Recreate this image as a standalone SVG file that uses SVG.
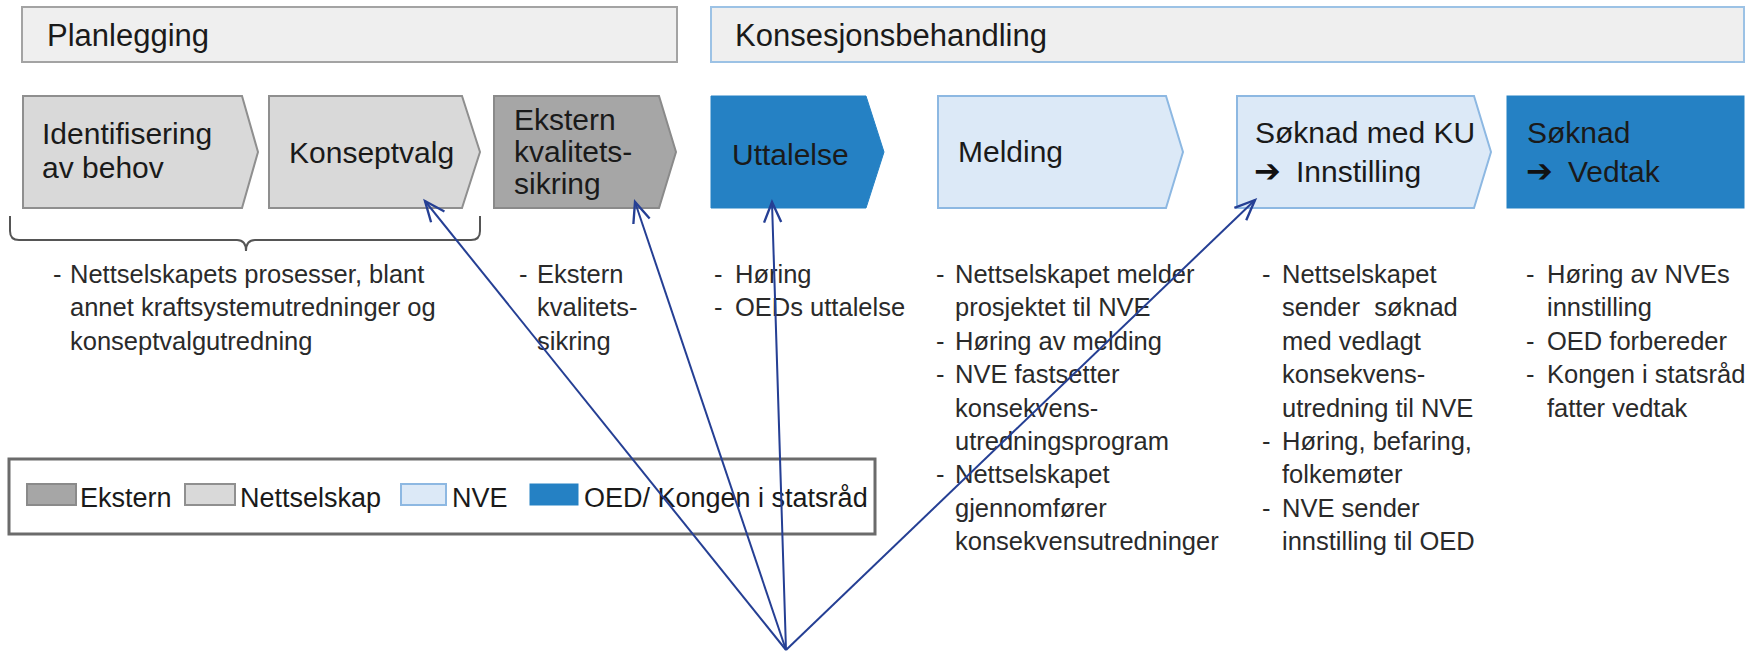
<svg xmlns="http://www.w3.org/2000/svg" width="1760" height="653" viewBox="0 0 1760 653">
<defs>
<style>
.hdr{font-family:"Liberation Sans",Arial,sans-serif;font-size:31px;fill:#1a1a1a}
.lbl{font-family:"Liberation Sans",Arial,sans-serif;font-size:30px;fill:#1a1a1a}
.arr{font-family:"DejaVu Sans",sans-serif;font-size:32px;font-weight:bold;fill:#111}
.body{font-family:"Liberation Sans",Arial,sans-serif;font-size:25.5px;fill:#2a2a2a;white-space:pre}
.leg{font-family:"Liberation Sans",Arial,sans-serif;font-size:27px;fill:#1a1a1a}
.net{fill:#d9d9d9;stroke:#8f8f8f;stroke-width:2}
.ext{fill:#a6a6a6;stroke:#8a8a8a;stroke-width:2}
.nve{fill:#dce9f7;stroke:#8db8e2;stroke-width:2}
.oed{fill:#2581c4;stroke:#2581c4;stroke-width:1}
.conn{stroke:#253f94;stroke-width:2;fill:none}
</style>
<marker id="ah" markerUnits="userSpaceOnUse" markerWidth="30" markerHeight="30" viewBox="-24 -12 28 24" refX="0" refY="0" orient="auto">
<path d="M-19,-8 L0,0 L-19,8" fill="none" stroke="#253f94" stroke-width="2.2"/>
</marker>
</defs>
<rect width="1760" height="653" fill="#ffffff"/>

<g id="planlegging">
<rect x="22" y="7" width="655" height="55" fill="#efefef" stroke="#a3a3a3" stroke-width="2"/>
<text class="hdr" x="47" y="46">Planlegging</text>
</g>
<g id="konsesjonsbehandling">
<rect x="711" y="7" width="1033" height="55" fill="#efefef" stroke="#9cc2e5" stroke-width="2"/>
<text class="hdr" x="735" y="46">Konsesjonsbehandling</text>
</g>

<g id="identifisering">
<polygon class="net" points="23,96 242,96 258,152 242,208 23,208"/>
<text class="lbl" x="42" y="144">Identifisering</text>
<text class="lbl" x="42" y="178">av behov</text>
</g>
<g id="konseptvalg">
<polygon class="net" points="269,96 462,96 480,152 462,208 269,208"/>
<text class="lbl" x="289" y="163">Konseptvalg</text>
</g>
<g id="ekstern">
<polygon class="ext" points="494,96 659,96 676,152 659,208 494,208"/>
<text class="lbl" x="514" y="130">Ekstern</text>
<text class="lbl" x="514" y="162">kvalitets-</text>
<text class="lbl" x="514" y="194">sikring</text>
</g>
<g id="uttalelse">
<polygon class="oed" points="711,96 866,96 884,152 866,208 711,208"/>
<text class="lbl" x="732" y="165">Uttalelse</text>
</g>
<g id="melding">
<polygon class="nve" points="938,96 1166,96 1183,152 1166,208 938,208"/>
<text class="lbl" x="958" y="162">Melding</text>
</g>
<g id="soknad-ku">
<polygon class="nve" points="1237,96 1474,96 1491,152 1474,208 1237,208"/>
<text class="lbl" x="1255" y="143">Søknad med KU</text>
<text x="1254" y="182"><tspan class="arr">➔</tspan><tspan class="lbl" x="1296">Innstilling</tspan></text>
</g>
<g id="soknad-vedtak">
<rect class="oed" x="1507" y="96" width="237" height="112"/>
<text class="lbl" x="1527" y="143">Søknad</text>
<text x="1526" y="182"><tspan class="arr">➔</tspan><tspan class="lbl" x="1568">Vedtak</tspan></text>
</g>

<g id="brace">
<path d="M10,216 L10,231 Q10,240 19,240 L237,240 Q246,240 246,251 Q246,240 255,240 L471,240 Q480,240 480,231 L480,216" fill="none" stroke="#555" stroke-width="2"/>
</g>

<g id="text-planlegging">
<text class="body" x="53" y="283">-</text>
<text class="body" x="70" y="283">Nettselskapets prosesser, blant</text>
<text class="body" x="70" y="316">annet kraftsystemutredninger og</text>
<text class="body" x="70" y="350">konseptvalgutredning</text>
</g>
<g id="text-ekstern">
<text class="body" x="519" y="283">-</text>
<text class="body" x="537" y="283">Ekstern</text>
<text class="body" x="537" y="316">kvalitets-</text>
<text class="body" x="537" y="350">sikring</text>
</g>
<g id="text-uttalelse">
<text class="body" x="714" y="283">-</text>
<text class="body" x="735" y="283">Høring</text>
<text class="body" x="714" y="316">-</text>
<text class="body" x="735" y="316">OEDs uttalelse</text>
</g>
<g id="text-melding">
<text class="body" x="936" y="283">-</text>
<text class="body" x="955" y="283">Nettselskapet melder</text>
<text class="body" x="955" y="316">prosjektet til NVE</text>
<text class="body" x="936" y="350">-</text>
<text class="body" x="955" y="350">Høring av melding</text>
<text class="body" x="936" y="383">-</text>
<text class="body" x="955" y="383">NVE fastsetter</text>
<text class="body" x="955" y="417">konsekvens-</text>
<text class="body" x="955" y="450">utredningsprogram</text>
<text class="body" x="936" y="483">-</text>
<text class="body" x="955" y="483">Nettselskapet</text>
<text class="body" x="955" y="517">gjennomfører</text>
<text class="body" x="955" y="550">konsekvensutredninger</text>
</g>
<g id="text-soknad-ku">
<text class="body" x="1262" y="283">-</text>
<text class="body" x="1282" y="283">Nettselskapet</text>
<text class="body" x="1282" y="316" xml:space="preserve">sender  søknad</text>
<text class="body" x="1282" y="350">med vedlagt</text>
<text class="body" x="1282" y="383">konsekvens-</text>
<text class="body" x="1282" y="417">utredning til NVE</text>
<text class="body" x="1262" y="450">-</text>
<text class="body" x="1282" y="450">Høring, befaring,</text>
<text class="body" x="1282" y="483">folkemøter</text>
<text class="body" x="1262" y="517">-</text>
<text class="body" x="1282" y="517">NVE sender</text>
<text class="body" x="1282" y="550">innstilling til OED</text>
</g>
<g id="text-vedtak">
<text class="body" x="1526" y="283">-</text>
<text class="body" x="1547" y="283">Høring av NVEs</text>
<text class="body" x="1547" y="316">innstilling</text>
<text class="body" x="1526" y="350">-</text>
<text class="body" x="1547" y="350">OED forbereder</text>
<text class="body" x="1526" y="383">-</text>
<text class="body" x="1547" y="383">Kongen i statsråd</text>
<text class="body" x="1547" y="417">fatter vedtak</text>
</g>

<g id="legend">
<rect x="9" y="459" width="866" height="75" fill="#ffffff" stroke="#6b6b6b" stroke-width="3"/>
<rect class="ext" x="27" y="484" width="49" height="21"/>
<text class="leg" x="80" y="507">Ekstern</text>
<rect class="net" x="185" y="484" width="50" height="21"/>
<text class="leg" x="240" y="507">Nettselskap</text>
<rect class="nve" x="401" y="484" width="45" height="21"/>
<text class="leg" x="452" y="507">NVE</text>
<rect class="oed" x="530" y="484" width="48" height="21"/>
<text class="leg" x="584" y="507">OED/ Kongen i statsråd</text>
</g>

<g id="connectors">
<line class="conn" x1="786" y1="650" x2="425" y2="201" marker-end="url(#ah)"/>
<line class="conn" x1="786" y1="650" x2="635" y2="202" marker-end="url(#ah)"/>
<line class="conn" x1="786" y1="650" x2="772" y2="202" marker-end="url(#ah)"/>
<line class="conn" x1="786" y1="650" x2="1255" y2="200" marker-end="url(#ah)"/>
</g>
</svg>
